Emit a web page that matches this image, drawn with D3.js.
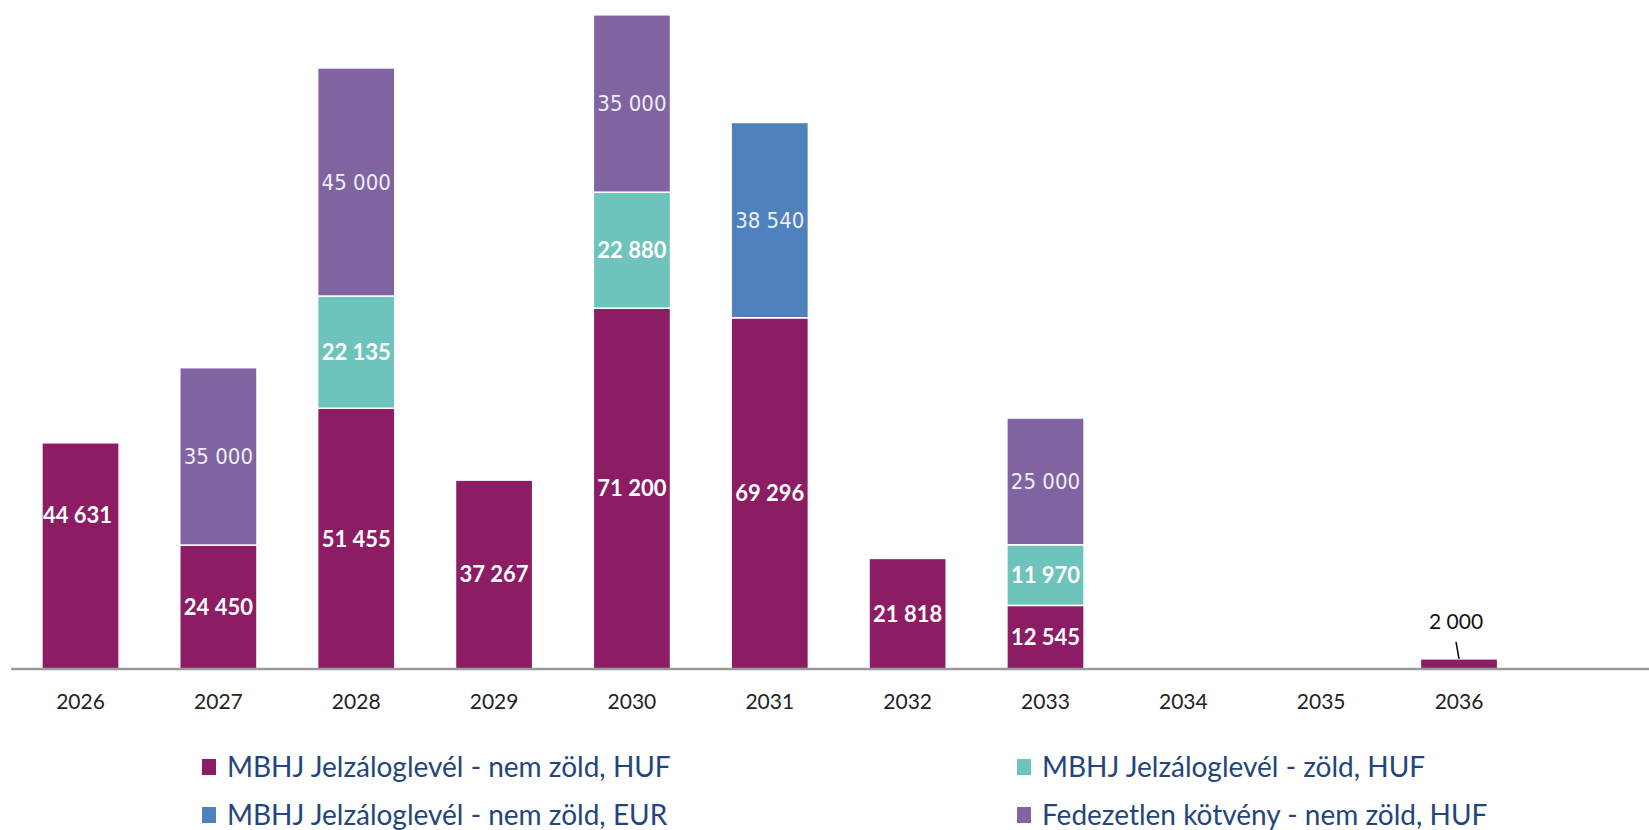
<!DOCTYPE html>
<html>
<head>
<meta charset="utf-8">
<script src="https://cdn.jsdelivr.net/npm/d3@7"></script>
<style>
  body { margin: 0; background: #fff; }
  .tick text { font-family: Lato, "Open Sans", sans-serif; fill: #222; }
</style>
</head>
<body>
<script>
var years = ["2026", "2027", "2028", "2029", "2030", "2031", "2032", "2033", "2034", "2035", "2036"];

var nemZoldHuf = [44631, 24450, 51455, 37267, 71200, 69296, 21818, 12545, 0, 0, 2000];
var zoldHuf    = [0, 0, 22135, 0, 22880, 0, 0, 11970, 0, 0, 0];
var nemZoldEur = [0, 0, 0, 0, 0, 38540, 0, 0, 0, 0, 0];
var fedezetlen = [0, 35000, 45000, 0, 35000, 0, 0, 25000, 0, 0, 0];

var seriesNames = [
    "MBHJ Jelzáloglevél - nem zöld, HUF",
    "MBHJ Jelzáloglevél - zöld, HUF",
    "MBHJ Jelzáloglevél - nem zöld, EUR",
    "Fedezetlen kötvény - nem zöld, HUF"
];
var seriesKeys = ["nemZoldHuf", "zoldHuf", "nemZoldEur", "fedezetlen"];
var seriesColors = ["#8c1c63", "#6ec3bc", "#4f81bd", "#8064a2"];
var seriesBold = [true, true, false, false];

var _width = 1649,
    _height = 830,
    _baseline = 669;

var table = years.map(function(y, i) {
    return {
        year: y,
        nemZoldHuf: nemZoldHuf[i],
        zoldHuf: zoldHuf[i],
        nemZoldEur: nemZoldEur[i],
        fedezetlen: fedezetlen[i]
    };
});

var stacked = d3.stack().keys(seriesKeys)(table);

var x = d3.scaleBand()
    .domain(years)
    .range([11.6, 11.6 + 137.85 * years.length])
    .paddingInner(0.44)
    .paddingOuter(0.22);

var y = d3.scaleLinear()
    .domain([0, 132000])
    .range([_baseline, 0]);

var fmt = function(v) {
    return d3.format(",")(v).replace(/,/g, " ");
};

var svg = d3.select("body").append("svg")
    .attr("width", _width)
    .attr("height", _height);

// bars
var layers = svg.append("g").attr("class", "bars")
    .selectAll("g.layer")
    .data(stacked)
    .enter().append("g")
    .attr("class", "layer")
    .attr("fill", function(d, i) { return seriesColors[i]; });

layers.selectAll("rect")
    .data(function(d) { return d.filter(function(p) { return p[1] - p[0] > 0; }); })
    .enter().append("rect")
    .attr("x", function(d) { return x(d.data.year); })
    .attr("width", x.bandwidth())
    .attr("y", function(d) { return y(d[1]); })
    .attr("height", function(d) { return y(d[0]) - y(d[1]); })
    .attr("stroke", "#fff")
    .attr("stroke-width", 1.5);

// axis
var xAxis = d3.axisBottom(x).tickSize(0).tickPadding(25);
var axisG = svg.append("g")
    .attr("class", "x axis")
    .attr("transform", "translate(0," + _baseline + ")")
    .call(xAxis);
axisG.select(".domain").remove();
axisG.selectAll(".tick text").style("font-size", "21px");
axisG.append("line")
    .attr("x1", 11)
    .attr("x2", _width)
    .attr("y1", 0)
    .attr("y2", 0)
    .attr("stroke", "#9a9a9a")
    .attr("stroke-width", 2.5);

// value labels inside segments
// the 2026 label sits higher than the segment middle in the original
function labelShift(i, d) {
    return (i === 0 && d.data.year === "2026") ? -41 : 0;
}

stacked.forEach(function(layer, i) {
    var pts = layer.filter(function(p) { return p[1] - p[0] > 4000; });
    svg.append("g").selectAll("text")
        .data(pts)
        .enter().append("text")
        .attr("x", function(d) { return x(d.data.year) + x.bandwidth() / 2 - (labelShift(i, d) ? 3 : 0); })
        .attr("y", function(d) { return (y(d[0]) + y(d[1])) / 2 + labelShift(i, d); })
        .attr("dy", "0.36em")
        .attr("text-anchor", "middle")
        .style("font-family", seriesBold[i] ? "Lato, sans-serif" : "'Liberation Sans Narrow', 'DejaVu Sans Condensed', sans-serif")
        .style("font-weight", seriesBold[i] ? "bold" : "normal")
        .style("font-size", seriesBold[i] ? "22px" : "22px")
        .style("fill", seriesBold[i] ? "#fff" : "#eeeef6")
        .text(function(d) { return fmt(d[1] - d[0]); });
});

// small segment label with leader line (2036)
var small = stacked[0].filter(function(p) { return p[1] - p[0] > 0 && p[1] - p[0] <= 4000; });
small.forEach(function(d) {
    var cx = x(d.data.year) + x.bandwidth() / 2;
    svg.append("line")
        .attr("x1", cx - 3)
        .attr("y1", y(d[1]) - 17)
        .attr("x2", cx)
        .attr("y2", y(d[1]))
        .attr("stroke", "#000")
        .attr("stroke-width", 1.5);
    svg.append("text")
        .attr("x", cx - 3)
        .attr("y", y(d[1]) - 30)
        .attr("text-anchor", "middle")
        .style("font-family", "Lato, sans-serif")
        .style("font-size", "21px")
        .style("fill", "#111")
        .text(fmt(d[1] - d[0]));
});

// legend
var legendPos = [[202, 767], [1017, 767], [202, 815], [1017, 815]];
var legend = svg.append("g").attr("class", "legend")
    .selectAll("g")
    .data(seriesNames)
    .enter().append("g")
    .attr("transform", function(d, i) { return "translate(" + legendPos[i][0] + "," + legendPos[i][1] + ")"; });

legend.append("rect")
    .attr("x", 0)
    .attr("y", -8)
    .attr("width", 14)
    .attr("height", 16)
    .attr("fill", function(d, i) { return seriesColors[i]; });

legend.append("text")
    .attr("x", 25)
    .attr("y", 0)
    .attr("dy", "0.35em")
    .style("font-family", "Lato, sans-serif")
    .style("font-size", "28px")
    .style("fill", "#23457a")
    .text(function(d) { return d; });
</script>
</body>
</html>
